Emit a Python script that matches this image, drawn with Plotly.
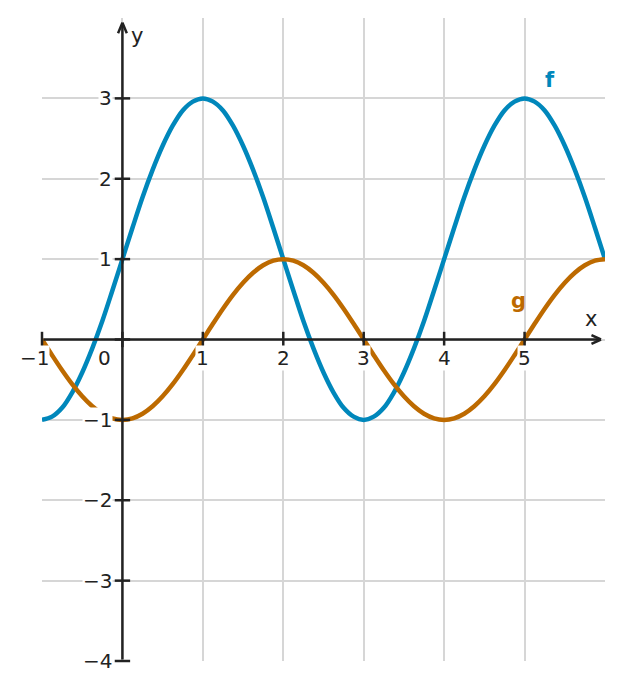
import plotly.graph_objects as go

x_vals = [-1, -0.875, -0.75, -0.625, -0.5, -0.375, -0.25, -0.125,
          0, 0.125, 0.25, 0.375, 0.5, 0.625, 0.75, 0.875,
          1, 1.125, 1.25, 1.375, 1.5, 1.625, 1.75, 1.875,
          2, 2.125, 2.25, 2.375, 2.5, 2.625, 2.75, 2.875,
          3, 3.125, 3.25, 3.375, 3.5, 3.625, 3.75, 3.875,
          4, 4.125, 4.25, 4.375, 4.5, 4.625, 4.75, 4.875,
          5, 5.125, 5.25, 5.375, 5.5, 5.625, 5.75, 5.875, 6]
f_vals = [-1, -0.96, -0.85, -0.66, -0.41, -0.11, 0.23, 0.61,
          1, 1.39, 1.77, 2.11, 2.41, 2.66, 2.85, 2.96,
          3, 2.96, 2.85, 2.66, 2.41, 2.11, 1.77, 1.39,
          1, 0.61, 0.23, -0.11, -0.41, -0.66, -0.85, -0.96,
          -1, -0.96, -0.85, -0.66, -0.41, -0.11, 0.23, 0.61,
          1, 1.39, 1.77, 2.11, 2.41, 2.66, 2.85, 2.96,
          3, 2.96, 2.85, 2.66, 2.41, 2.11, 1.77, 1.39, 1]
g_vals = [0, -0.195, -0.383, -0.556, -0.707, -0.831, -0.924, -0.981,
          -1, -0.981, -0.924, -0.831, -0.707, -0.556, -0.383, -0.195,
          0, 0.195, 0.383, 0.556, 0.707, 0.831, 0.924, 0.981,
          1, 0.981, 0.924, 0.831, 0.707, 0.556, 0.383, 0.195,
          0, -0.195, -0.383, -0.556, -0.707, -0.831, -0.924, -0.981,
          -1, -0.981, -0.924, -0.831, -0.707, -0.556, -0.383, -0.195,
          0, 0.195, 0.383, 0.556, 0.707, 0.831, 0.924, 0.981, 1]

x_ticks = [-1, 0, 1, 2, 3, 4, 5]
x_tick_labels = ["−1", "0", "1", "2", "3", "4", "5"]
y_ticks = [-4, -3, -2, -1, 1, 2, 3]
y_tick_labels = ["−4", "−3", "−2", "−1", "1", "2", "3"]

BLUE = "#0087bb"
ORANGE = "#bd6a00"
AX = "#222222"
FONT = "DejaVu Sans"

fig = go.Figure()
fig.add_trace(go.Scatter(x=x_vals, y=f_vals, mode="lines", line=dict(color=BLUE, width=4.5, shape="spline"),
                         hoverinfo="skip"))
fig.add_trace(go.Scatter(x=x_vals, y=g_vals, mode="lines", line=dict(color=ORANGE, width=4.5, shape="spline"),
                         hoverinfo="skip"))
# tick marks on the axes
fig.add_trace(go.Scatter(x=x_ticks, y=[0] * len(x_ticks), mode="markers", cliponaxis=False,
                         marker=dict(symbol="line-ns", size=11, line=dict(color=AX, width=2.5)),
                         hoverinfo="skip"))
fig.add_trace(go.Scatter(x=[0] * (len(y_ticks) + 1), y=y_ticks + [0], mode="markers", cliponaxis=False,
                         marker=dict(symbol="line-ew", size=11, line=dict(color=AX, width=2.5)),
                         hoverinfo="skip"))

annotations = []
# axis lines
X_TIP, Y_TIP = 5.95, 3.94
annotations.append(dict(x=X_TIP, y=0, ax=-1, ay=0, xref="x", yref="y", axref="x", ayref="y",
                        showarrow=True, arrowhead=0, arrowwidth=2.5, arrowcolor=AX, text=""))
annotations.append(dict(x=0, y=Y_TIP, ax=0, ay=-4, xref="x", yref="y", axref="x", ayref="y",
                        showarrow=True, arrowhead=0, arrowwidth=2.5, arrowcolor=AX, text=""))
# open chevron arrowheads (pixel offsets from the tips)
for dx, dy in [(-11, -5), (-11, 5)]:
    annotations.append(dict(x=X_TIP, y=0, ax=dx, ay=dy, xref="x", yref="y", showarrow=True,
                            arrowhead=0, arrowwidth=2.5, arrowcolor=AX, text=""))
for dx, dy in [(-5, 12), (5, 12)]:
    annotations.append(dict(x=0, y=Y_TIP, ax=dx, ay=dy, xref="x", yref="y", showarrow=True,
                            arrowhead=0, arrowwidth=2.5, arrowcolor=AX, text=""))
# tick labels
for v, t in zip(x_ticks, x_tick_labels):
    xs = 0
    if v == 0:
        xs = -18
    elif t.startswith("−"):
        xs = -8
    annotations.append(dict(x=v, y=0, xref="x", yref="y", text=t, showarrow=False, xanchor="center",
                            yanchor="middle", yshift=-18, xshift=xs, bgcolor="white", borderpad=0,
                            font=dict(family=FONT, size=20, color=AX)))
for v, t in zip(y_ticks, y_tick_labels):
    annotations.append(dict(x=0, y=v, xref="x", yref="y", text=t, showarrow=False, xanchor="right",
                            yanchor="middle", xshift=-9, bgcolor="white", borderpad=0,
                            font=dict(family=FONT, size=20, color=AX)))
# axis names
annotations.append(dict(x=5.83, y=0.25, xref="x", yref="y", text="x", showarrow=False,
                        font=dict(family=FONT, size=21, color=AX)))
annotations.append(dict(x=0.18, y=3.78, xref="x", yref="y", text="y", showarrow=False,
                        font=dict(family=FONT, size=21, color=AX)))
# curve labels
annotations.append(dict(x=5.32, y=3.23, xref="x", yref="y", text="<b>f</b>", showarrow=False,
                        font=dict(family=FONT, size=21, color=BLUE)))
annotations.append(dict(x=4.92, y=0.48, xref="x", yref="y", text="<b>g</b>", showarrow=False,
                        font=dict(family=FONT, size=21, color=ORANGE)))

fig.update_layout(
    width=606, height=673,
    margin=dict(l=34, r=9, t=10, b=20),
    paper_bgcolor="white", plot_bgcolor="white",
    showlegend=False,
    annotations=annotations,
    xaxis=dict(range=[-1, 6], tickvals=[-1, 0, 1, 2, 3, 4, 5, 6], showticklabels=False, showgrid=True,
               gridcolor="#d6d6d6", gridwidth=1.5, zeroline=False, showline=False, fixedrange=True),
    yaxis=dict(range=[-4, 4], tickvals=[-4, -3, -2, -1, 0, 1, 2, 3], showticklabels=False, showgrid=True,
               gridcolor="#d6d6d6", gridwidth=1.5, zeroline=False, showline=False, fixedrange=True),
)

fig.write_html("out.html")
